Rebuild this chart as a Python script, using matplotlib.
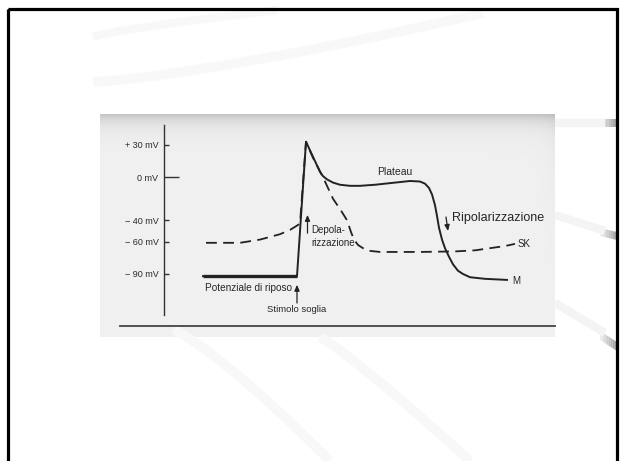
import numpy as np
import matplotlib
matplotlib.use("Agg")
import matplotlib.pyplot as plt
from matplotlib.patches import Rectangle, Polygon

plt.rcParams['font.family'] = ['Liberation Sans', 'DejaVu Sans']

# ---------------- data ----------------
# Curve M (solid): time (arbitrary units) and membrane potential (mV)
m_time = [38, 132, 141, 145, 148, 152, 155, 158, 162, 168, 175, 185, 195, 210,
          230, 245, 255, 260, 264, 267, 270, 272, 274, 277, 280, 284, 288, 293,
          298, 305, 320, 342]
m_mv = [-92, -92, 33, 25, 19, 11, 5, 1, -2, -5, -7, -8, -8, -7,
        -5, -3.5, -4, -6, -10, -16, -26, -36, -47, -58, -66, -74, -81, -87,
        -90, -93, -94.5, -95.5]

# Curve SK (dashed)
sk_time = [41, 75, 95, 115, 125, 132, 135, 141, 148, 158, 168, 176, 182, 186,
           189, 193, 198, 205, 215, 255, 290, 310, 325, 340, 350]
sk_mv = [-61, -61, -58, -53, -49, -45, -43, 33, 18, 0, -20, -31, -40, -51,
         -58, -63, -66, -68.5, -69.5, -69.5, -69, -68, -66, -64, -62]

tick_values = [30, -40, -60, -90]
tick_labels = ['+ 30 mV', '\u2212 40 mV', '\u2212 60 mV', '\u2212 90 mV']
zero_value = [0]
zero_label = ['0 mV']

# ---------------- figure ----------------
W, H = 620, 461
fig = plt.figure(figsize=(W / 100, H / 100), dpi=100)
fig.patch.set_facecolor('white')

# decoration layer in pixel coordinates
deco = fig.add_axes([0, 0, 1, 1], zorder=0)
deco.set_xlim(0, W)
deco.set_ylim(H, 0)
deco.axis('off')

# faint slide swooshes
sw = '#f8f8f8'
t = np.linspace(0, 1, 50)
deco.plot(93 + 184 * t, 37 - 27 * t ** 0.8, color=sw, lw=6, solid_capstyle='butt')
deco.plot(93 + 390 * t, 82 - 69 * t ** 1.3, color=sw, lw=7, solid_capstyle='butt')
deco.plot(173 + 157 * t, 330 + 131 * t ** 1.2, color=sw, lw=7, solid_capstyle='butt')
deco.plot(320 + 150 * t, 337 + 124 * t ** 1.1, color=sw, lw=7, solid_capstyle='butt')
deco.plot(555 + 50 * t, 215 + 16 * t, color='#f4f4f4', lw=6, solid_capstyle='butt')
deco.plot(555 + 50 * t, 303 + 30 * t, color='#f4f4f4', lw=6, solid_capstyle='butt')
deco.plot(555 + 50 * t, 123 + 0 * t, color='#f4f4f4', lw=6, solid_capstyle='butt')
# grey tips at right border
for (x0, y0, y1, h) in [(600, 119, 119, 8), (600, 228, 232, 8), (600, 331, 342, 9)]:
    n = 8
    for i in range(n):
        xa = x0 + i * 17 / n
        xb = x0 + (i + 1) * 17 / n
        ya = y0 + (y1 - y0) * i / n
        yb = y0 + (y1 - y0) * (i + 1) / n
        g = 0.93 - 0.35 * i / n
        deco.add_patch(Polygon([(xa, ya), (xb, yb), (xb, yb + h), (xa, ya + h)],
                               closed=True, facecolor=(g, g, g), edgecolor='none'))

# scanned picture background with top gradient
rows = np.arange(223)[:, None]
cols = np.arange(455)[None, :]
grad = 0.94 - 0.17 * np.exp(-rows / 9.0) - 0.04 * np.exp(-(454 - cols) / 8.0) * np.exp(-rows / 60.0)
grad = grad * np.ones((1, 455))
deco.imshow(grad, cmap='gray', vmin=0, vmax=1, extent=(100, 555, 337, 114),
            interpolation='bilinear', aspect='auto', zorder=1)

# slide frame
deco.add_patch(Rectangle((8, 9), 609, 470, fill=False, edgecolor='black', lw=2.3, zorder=3))

# ---------------- chart axes ----------------
x0_px, x1_px, y0_px, y1_px = 100, 555, 114, 337
ax = fig.add_axes([x0_px / W, 1 - y1_px / H, (x1_px - x0_px) / W, (y1_px - y0_px) / H],
                  zorder=1)
ax.patch.set_alpha(0)
ax.set_xlim(-65, 390)
ax.set_ylim(-148.6, 58.8)

ink = '#222222'
ax.plot(sk_time, sk_mv, color=ink, lw=1.3, linestyle=(0, (6, 3.5)), dash_capstyle='butt')
ax.plot(m_time, m_mv, color=ink, lw=1.4, solid_joinstyle='round')
ax.plot(m_time[:2], m_mv[:2], color=ink, lw=2.4, solid_capstyle='butt')

# axes styling
for s in ['top', 'right']:
    ax.spines[s].set_visible(False)
ax.spines['left'].set_position(('data', -1))
ax.spines['left'].set_bounds(-128, 48.6)
ax.spines['left'].set_color('#333333')
ax.spines['left'].set_linewidth(1.0)
ax.spines['bottom'].set_position(('data', -138))
ax.spines['bottom'].set_bounds(-45, 390)
ax.spines['bottom'].set_color('#444444')
ax.spines['bottom'].set_linewidth(1.3)
ax.set_xticks([])

ax.set_yticks(tick_values)
ax.set_yticklabels(tick_labels)
ax.set_yticks(zero_value, minor=True)
ax.set_yticklabels(zero_label, minor=True)
ax.tick_params(axis='y', which='major', direction='in', length=3.8, width=1.0,
               color='#333333', pad=4, labelsize=6.5, labelcolor='#2a2a2a')
ax.tick_params(axis='y', which='minor', direction='in', length=10.5, width=1.0,
               color='#333333', pad=4, labelsize=6.5, labelcolor='#2a2a2a')

txt = dict(color='#262626')
ax.text(230, 4.9, 'Plateau', ha='center', va='center', fontsize=7.5, **txt)
ax.text(287, -37.9, 'Ripolarizzazione', ha='left', va='center', fontsize=9, **txt)
ax.text(146, -49.5, 'Depola-', ha='left', va='center', fontsize=7, **txt)
ax.text(146, -61.2, 'rizzazione', ha='left', va='center', fontsize=7, **txt)
ax.text(40, -103, 'Potenziale di riposo', ha='left', va='center', fontsize=7.2, **txt)
ax.text(102, -122.6, 'Stimolo soglia', ha='left', va='center', fontsize=6.8, **txt)
ax.text(353, -62.1, 'SK', ha='left', va='center', fontsize=7, **txt)
ax.text(347, -96.5, 'M', ha='left', va='center', fontsize=7, **txt)

arw = dict(arrowstyle='-|>,head_length=0.35,head_width=0.15', color=ink, lw=0.9,
           shrinkA=0, shrinkB=0)
ax.annotate('', xy=(142.5, -35), xytext=(142.5, -52), arrowprops=arw)
ax.annotate('', xy=(132, -100), xytext=(132, -117), arrowprops=arw)
ax.annotate('', xy=(283, -50), xytext=(281, -37), arrowprops=arw)

fig.savefig('out.png', dpi=100, facecolor='white')
